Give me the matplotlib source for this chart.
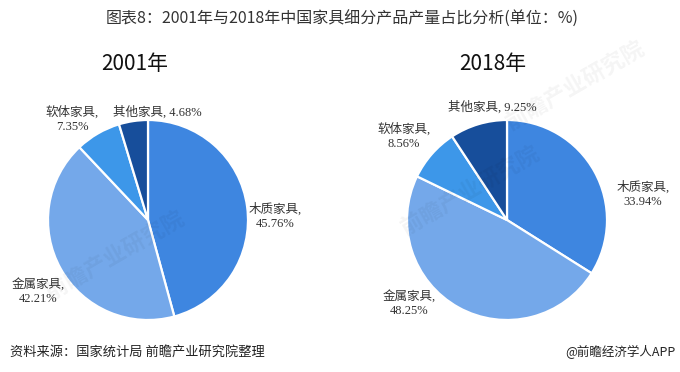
import matplotlib
matplotlib.use("Agg")
import matplotlib.pyplot as plt

# ---- data ----
categories = ["木质家具", "金属家具", "软体家具", "其他家具"]
share_2001 = [45.76, 42.21, 7.35, 4.68]
share_2018 = [33.94, 48.25, 8.56, 9.25]
years = ["2001年", "2018年"]

colors = ["#3e86e0", "#74a8ea", "#3d97e9", "#174e9b"]

title = "图表8：2001年与2018年中国家具细分产品产量占比分析(单位：%)"
source = "资料来源：国家统计局 前瞻产业研究院整理"
credit = "@前瞻经济学人APP"
watermark = "前瞻产业研究院"

# label positions (in units of pie radius) and text layout
label_layout_2001 = [((1.27, 0.04), True), ((-1.10, -0.72), True),
                     ((-0.76, 1.01), True), ((0.09, 1.08), False)]
label_layout_2018 = [((1.36, 0.26), True), ((-0.98, -0.84), True),
                     ((-1.03, 0.835), True), ((-0.15, 1.13), False)]

W, H = 680, 372
fig = plt.figure(figsize=(W / 100, H / 100), dpi=100)
fig.patch.set_facecolor("white")

cjk_sans = ["Noto Sans CJK SC", "DejaVu Sans"]
lab_font = ["Liberation Serif", "Noto Sans CJK SC"]


def px_axes(cx, cy, r):
    return fig.add_axes([(cx - r) / W, (H - cy - r) / H, 2 * r / W, 2 * r / H])


# faint watermarks
for (x, y) in [(115, 255), (470, 190), (575, 85)]:
    fig.text(x / W, 1 - y / H, watermark, fontsize=16, color="#000000",
             alpha=0.045, rotation=30, ha="center", va="center",
             family=cjk_sans, fontweight="bold")

panels = [(148, 220, share_2001, label_layout_2001, years[0], 135),
          (507, 220, share_2018, label_layout_2018, years[1], 493)]

for cx, cy, vals, layout, yr, tx in panels:
    ax = px_axes(cx, cy, 100)
    ax.pie(vals, colors=colors, startangle=90, counterclock=False,
           radius=1.0, wedgeprops=dict(edgecolor="white", linewidth=1.6))
    ax.set_xlim(-1, 1)
    ax.set_ylim(-1, 1)
    ax.set_aspect("auto")
    ax.axis("off")
    for cat, v, ((lx, ly), two_line) in zip(categories, vals, layout):
        sep = ",\n" if two_line else ", "
        ax.text(lx, ly, f"{cat}{sep}{v:.2f}%", ha="center", va="center",
                fontsize=9, color="#333333", family=lab_font,
                linespacing=1.2, clip_on=False)
    fig.text(tx / W, 1 - 64 / H, yr, ha="center", va="center", fontsize=15,
             color="#111111", family=cjk_sans)

fig.text(342 / W, 1 - 19 / H, title, ha="center", va="center", fontsize=11.5,
         color="#333333", family=cjk_sans)
fig.text(10 / W, 1 - 352 / H, source, ha="left", va="center", fontsize=9.5,
         color="#222222", family=cjk_sans, style="italic")
fig.text(676 / W, 1 - 352 / H, credit, ha="right", va="center", fontsize=9,
         color="#222222", family=cjk_sans)

fig.savefig("out.png", dpi=100, facecolor="white")
